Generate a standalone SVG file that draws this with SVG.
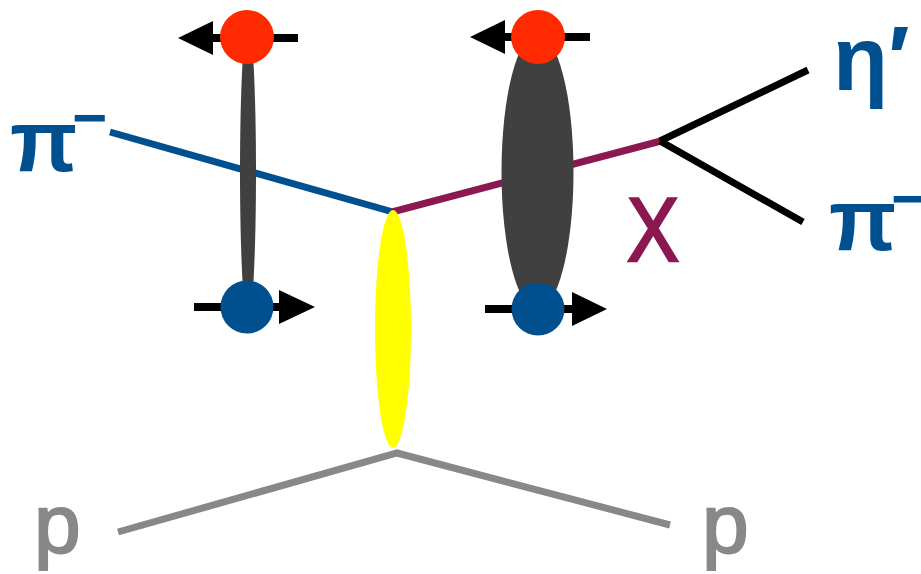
<svg xmlns="http://www.w3.org/2000/svg" width="921" height="574" viewBox="0 0 921 574">
<style>
.lbl{font-family:"Liberation Sans",Arial,sans-serif;}
.blue{fill:#00508f;font-weight:bold;}
.gray{fill:#888888;stroke:#888888;stroke-width:2;}
.ln{fill:none;stroke-width:7;stroke-linecap:butt;}
.arr{stroke:#000;stroke-width:8;fill:none;}
.head{fill:#000;}
.gl{fill:#404040;}
.red{fill:#ff2a00;}
.bq{fill:#00508f;}
</style>
<rect width="921" height="574" fill="#fff"/>
<g id="connectors">
<line class="ln" x1="110" y1="132" x2="393" y2="212" stroke="#00508f"/>
<line class="ln" x1="392" y1="212" x2="661" y2="141" stroke="#8b1850"/>
<line class="ln" x1="660" y1="141" x2="808" y2="70" stroke="#000"/>
<line class="ln" x1="660" y1="141" x2="803" y2="222" stroke="#000"/>
<polyline class="ln" points="118,532 397,453 670,525" stroke="#888888"/>
</g>
<g id="arrows">
<line class="arr" x1="210" y1="38" x2="298" y2="38"/>
<polygon class="head" points="178,38 213,21 213,55"/>
<line class="arr" x1="502" y1="37" x2="590" y2="37"/>
<polygon class="head" points="470,37 505,20 505,54"/>
<line class="arr" x1="194" y1="307" x2="282" y2="307"/>
<polygon class="head" points="315,307 279,290 279,324"/>
<line class="arr" x1="485" y1="309" x2="575" y2="309"/>
<polygon class="head" points="607,309 572,292 572,326"/>
</g>
<g id="meson-left">
<ellipse class="gl" cx="248" cy="172" rx="8" ry="150"/>
<circle class="red" cx="247" cy="37" r="27"/>
<circle class="bq" cx="247" cy="307" r="26.5"/>
</g>
<g id="meson-right">
<ellipse class="gl" cx="537.5" cy="172" rx="36" ry="138"/>
<circle class="red" cx="538" cy="37" r="27"/>
<circle class="bq" cx="538" cy="309" r="26.5"/>
</g>
<g id="pomeron">
<ellipse cx="393" cy="329" rx="18" ry="119" fill="#ffff00"/>
</g>
<g id="label-pi-in">
<text class="lbl blue" x="10" y="171" font-size="88">π<tspan x="72" y="138" font-size="60">−</tspan></text>
</g>
<g id="label-eta">
<text class="lbl blue" x="833" y="90" font-size="90">η′</text>
</g>
<g id="label-pi-out">
<text class="lbl blue" x="829" y="250" font-size="88">π<tspan x="891" y="219" font-size="60">−</tspan></text>
</g>
<g id="label-X">
<text class="lbl" x="627" y="261" font-size="90" fill="#8b1850" stroke="#8b1850" stroke-width="2.5" textLength="52" lengthAdjust="spacingAndGlyphs">X</text>
</g>
<g id="label-p-left">
<text class="lbl gray" x="34" y="553" font-size="84">p</text>
</g>
<g id="label-p-right">
<text class="lbl gray" x="702" y="553" font-size="84">p</text>
</g>
</svg>
